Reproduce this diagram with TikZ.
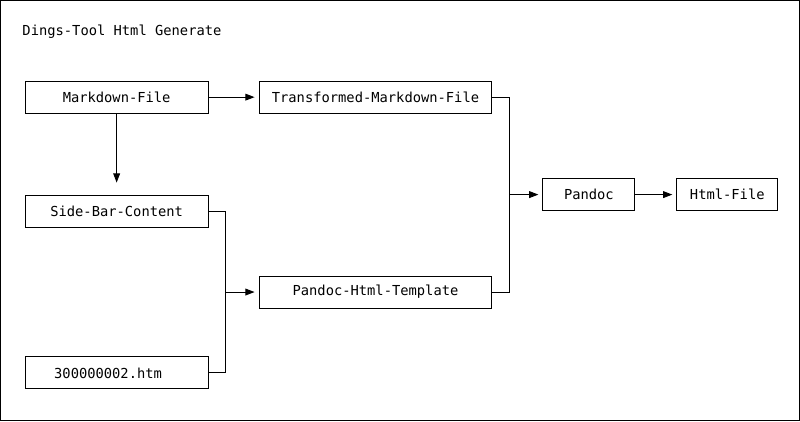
\documentclass[tikz,border=0pt]{standalone}
\usepackage{fontspec}
\setmonofont{DejaVu Sans Mono}
\usepackage{tikz}
\usetikzlibrary{arrows.meta, positioning, calc}
\tikzstyle{file} = [rectangle, draw, line width=0.7pt, minimum height=0.8cm, align=center, inner sep=0pt]
\tikzstyle{arrow} = [-{Triangle[length=2.3mm,width=1.7mm]}, line width=0.7pt, shorten >=0.1cm]
\tikzstyle{link} = [line width=0.7pt]

\begin{document}
\begin{tikzpicture}[font=\ttfamily\fontsize{9.8}{11}\selectfont]

% frame
\draw[line width=1pt] (0.0125,-0.0125) rectangle (19.9875,-10.5125);
\useasboundingbox (0,0) rectangle (20,-10.525);

\node[anchor=west, inner sep=0pt] (title) at (0.55,-0.8) {Dings-Tool Html Generate};

% left column
\node[file, minimum width=4.575cm] (markdown) at (2.9125,-2.425) {Markdown-File};
\node[file, minimum width=4.575cm, below=2.025cm of markdown] (sidebar) {Side-Bar-Content};
\node[file, text width=3.125cm, inner xsep=0.725cm, align=left, below=3.225cm of sidebar] (htm) {300000002.htm};

% middle column
\node[file, minimum width=5.825cm, right=1.25cm of markdown] (transformed) {Transformed-Markdown-File};
\node[file, minimum width=5.825cm, below=4.05cm of transformed] (template) {Pandoc-Html-Template};

% right column
\coordinate (join) at ($(transformed.east)!0.5!(template.east)$);
\node[file, minimum width=2.3cm, right=1.25cm of join] (pandoc) {Pandoc};
\node[file, minimum width=2.525cm, right=1.025cm of pandoc] (html) {Html-File};

% arrows
\draw[arrow] (markdown) -- (transformed);
\draw[arrow, shorten >=0.3cm] (markdown) -- (sidebar);
\draw[link] (sidebar.east) -- ++(0.425,0) coordinate (left join) -- (left join |- htm.east) -- (htm.east);
\draw[arrow] (left join |- template) -- (template);
\draw[link] (transformed.east) -- ++(0.425,0) coordinate (right join) -- (right join |- template.east) -- (template.east);
\draw[arrow] (right join |- join) -- (pandoc);
\draw[arrow] (pandoc) -- (html);

\end{tikzpicture}
\end{document}
